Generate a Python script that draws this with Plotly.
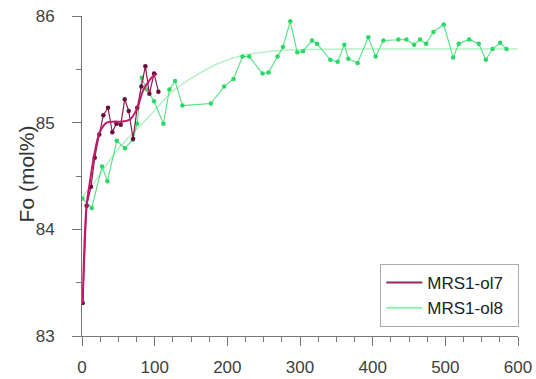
import plotly.graph_objects as go

# ---- MRS1-ol7 (purple) data ----
ol7_x = [1, 6.4, 12.4, 17.5, 23.8, 29.4, 35.8, 41.7, 47.3, 53.3, 58.8, 64.3, 70.3, 76.0, 81.7, 87.2, 92.7, 99.2, 105.1]
ol7_y = [83.31, 84.22, 84.40, 84.67, 84.89, 85.07, 85.14, 84.91, 84.99, 84.98, 85.22, 85.11, 84.85, 85.14, 85.34, 85.53, 85.27, 85.46, 85.29]

# ---- MRS1-ol7 fitted trend ----
ol7_fit_x = [1, 6, 11, 18, 25, 34, 45, 55, 66, 75, 84, 91, 97, 103]
ol7_fit_y = [83.31, 84.2, 84.45, 84.74, 84.92, 85.0, 85.01, 85.01, 85.03, 85.12, 85.30, 85.38, 85.43, 85.46]

# ---- MRS1-ol8 (green) data ----
ol8_x = [0.5, 13.4, 27.6, 34.9, 47.8, 59.2, 69.9, 75.8, 82.3, 89.1, 99.2, 112, 120.3, 128.1, 138.2,
         177.3, 195.6, 208.5, 220.9, 230.1, 248.4, 256.7, 269.1, 276.5, 286.6, 296.2, 304.1, 316.5,
         323.4, 341.7, 351.8, 361, 366.5, 379.3, 394, 404.1, 414.7, 435.4, 446.4, 457, 465.3, 473.6,
         483.6, 497.8, 510.7, 518.5, 532.8, 546, 555.7, 564.9, 575.5, 584.2]
ol8_y = [84.29, 84.20, 84.59, 84.45, 84.83, 84.76, 84.84, 84.99, 85.42, 85.31, 85.20, 84.99, 85.31, 85.39, 85.16,
         85.18, 85.34, 85.41, 85.62, 85.62, 85.46, 85.47, 85.62, 85.71, 85.95, 85.66, 85.67, 85.77,
         85.74, 85.59, 85.57, 85.73, 85.60, 85.56, 85.80, 85.62, 85.77, 85.78, 85.78, 85.73, 85.78, 85.74,
         85.85, 85.92, 85.61, 85.74, 85.78, 85.74, 85.59, 85.69, 85.75, 85.69]

# ---- MRS1-ol8 fitted trend ----
ol8_fit_x = [0, 20, 48, 94, 121, 140, 186, 220, 277, 369, 600]
ol8_fit_y = [84.30, 84.47, 84.74, 85.07, 85.27, 85.37, 85.55, 85.63, 85.68, 85.69, 85.69]

x_ticks = [0, 100, 200, 300, 400, 500, 600]
y_ticks = [83, 84, 85, 86]

FONT = "Arial, 'Liberation Sans', sans-serif"
PURPLE_FIT = "#c4176a"
PURPLE_DATA = "#8a1d52"
PURPLE_MARK = "#6a0d3c"
GREEN_FIT = "#b6f0c6"
GREEN_DATA = "#4fe282"
GREEN_MARK = "#2bd865"

fig = go.Figure()

fig.add_trace(go.Scatter(x=ol8_fit_x, y=ol8_fit_y, mode="lines", line=dict(color=GREEN_FIT, width=1.5, shape="spline", smoothing=1.0),
                         name="MRS1-ol8", showlegend=False, hoverinfo="skip"))
fig.add_trace(go.Scatter(x=ol8_x, y=ol8_y, mode="lines+markers", line=dict(color=GREEN_DATA, width=1.1),
                         marker=dict(color=GREEN_MARK, size=4.5), name="MRS1-ol8", showlegend=False))
fig.add_trace(go.Scatter(x=ol7_x, y=ol7_y, mode="lines+markers", line=dict(color=PURPLE_DATA, width=1.2),
                         marker=dict(color=PURPLE_MARK, size=4.5), name="MRS1-ol7", showlegend=False))
fig.add_trace(go.Scatter(x=ol7_fit_x, y=ol7_fit_y, mode="lines", line=dict(color=PURPLE_FIT, width=2, shape="spline", smoothing=1.0),
                         name="MRS1-ol7", showlegend=False, hoverinfo="skip"))

# legend entries
NB = "\u00a0"
fig.add_trace(go.Scatter(x=[None], y=[None], mode="lines", line=dict(color="#9c2463", width=2), name="MRS1-ol7" + NB * 2))
fig.add_trace(go.Scatter(x=[None], y=[None], mode="lines", line=dict(color="#8ff0ad", width=2), name="MRS1-ol8" + NB * 2))

axis_common = dict(showgrid=False, zeroline=False, showline=True, linecolor="#777777", linewidth=1,
                   ticks="outside", ticklen=9, tickcolor="#777777", tickwidth=1, automargin=False,
                   tickfont=dict(family=FONT, size=17, color="#404040"))

fig.update_layout(
    width=536, height=379, autosize=False,
    margin=dict(l=82, r=18, t=16, b=43, pad=0),
    paper_bgcolor="white", plot_bgcolor="white",
    font=dict(family=FONT, color="#404040"),
    xaxis=dict(range=[0, 600], tickvals=x_ticks, ticktext=[str(v) for v in x_ticks],
               minor=dict(dtick=25, tick0=0, ticks="outside", ticklen=5, tickcolor="#777777"),
               ticklabelstandoff=7, **axis_common),
    yaxis=dict(range=[83, 86], tickvals=y_ticks, ticktext=[str(v) for v in y_ticks],
               minor=dict(dtick=0.5, tick0=83, ticks="outside", ticklen=5, tickcolor="#777777"),
               ticklabelstandoff=14, **axis_common),
    annotations=[dict(text="Fo (mol%)", xref="paper", yref="paper", x=0, y=0.505, xshift=-56,
                      xanchor="center", yanchor="middle", textangle=-90, showarrow=False,
                      font=dict(family=FONT, size=21, color="#333333"))],
    legend=dict(x=1.003, y=0.225, xanchor="right", yanchor="top", bgcolor="white",
                bordercolor="#aaaaaa", borderwidth=1, font=dict(family=FONT, size=17, color="#222222"),
                tracegroupgap=0, itemwidth=36),
    showlegend=True,
)

fig.write_html("out.html", config={"displayModeBar": False},
               post_script="document.body.style.margin='0px';document.body.style.overflow='hidden';")
